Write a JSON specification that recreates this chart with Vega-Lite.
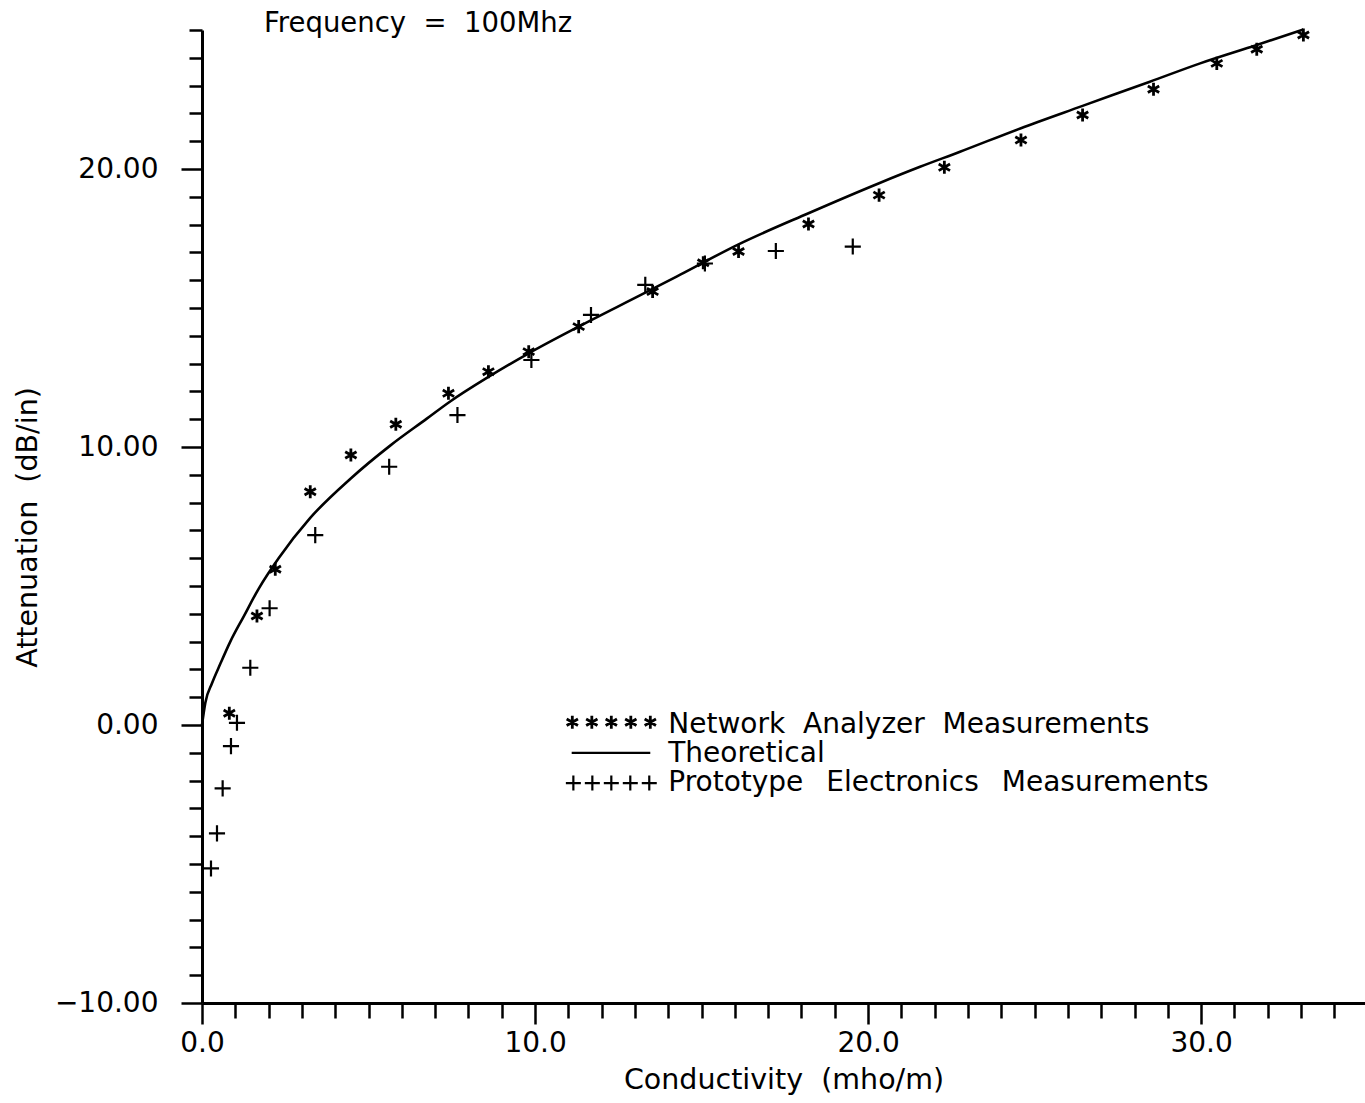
{
  "$schema": "https://vega.github.io/schema/vega-lite/v6.json",
  "width": 1163,
  "height": 973,
  "autosize": {"type": "none"},
  "padding": {"left": 202, "top": 30, "right": 0, "bottom": 100},
  "background": "white",
  "title": {
    "text": "Frequency\u00a0 =\u00a0 100Mhz",
    "anchor": "start",
    "frame": "group",
    "dx": 62,
    "dy": 43,
    "offset": 0,
    "baseline": "alphabetic",
    "font": "DejaVu Sans",
    "fontSize": 27.5,
    "fontWeight": "normal",
    "color": "black"
  },
  "config": {
    "view": {"stroke": null},
    "axis": {
      "grid": false,
      "domainColor": "black",
      "domainWidth": 3,
      "tickColor": "black",
      "tickWidth": 2.5,
      "labelFont": "DejaVu Sans",
      "labelFontSize": 28,
      "labelColor": "black",
      "titleFont": "DejaVu Sans",
      "titleFontSize": 28.5,
      "titleFontWeight": "normal",
      "titleColor": "black",
      "labelOverlap": false,
      "labelFlush": false
    }
  },
  "datasets": {
    "theory": [
      {"conductivity": 0, "attenuation": 0},
      {"conductivity": 0.1, "attenuation": 0.8},
      {"conductivity": 0.3, "attenuation": 1.5},
      {"conductivity": 0.55, "attenuation": 2.2},
      {"conductivity": 0.85, "attenuation": 3.0},
      {"conductivity": 1.25, "attenuation": 3.9},
      {"conductivity": 1.7, "attenuation": 4.9},
      {"conductivity": 2.3, "attenuation": 6.0},
      {"conductivity": 3.25, "attenuation": 7.45},
      {"conductivity": 4.45, "attenuation": 8.85},
      {"conductivity": 5.65, "attenuation": 10.05},
      {"conductivity": 6.75, "attenuation": 11.02},
      {"conductivity": 7.43, "attenuation": 11.62},
      {"conductivity": 8.6, "attenuation": 12.52},
      {"conductivity": 9.81, "attenuation": 13.37},
      {"conductivity": 11.31, "attenuation": 14.33},
      {"conductivity": 13.31, "attenuation": 15.55},
      {"conductivity": 14.36, "attenuation": 16.2},
      {"conductivity": 16.11, "attenuation": 17.29},
      {"conductivity": 18.21, "attenuation": 18.41},
      {"conductivity": 20.33, "attenuation": 19.49},
      {"conductivity": 21.56, "attenuation": 20.08},
      {"conductivity": 22.76, "attenuation": 20.62},
      {"conductivity": 24.57, "attenuation": 21.46},
      {"conductivity": 26.44, "attenuation": 22.27},
      {"conductivity": 28.46, "attenuation": 23.14},
      {"conductivity": 29.97, "attenuation": 23.8},
      {"conductivity": 31.67, "attenuation": 24.46},
      {"conductivity": 33.07, "attenuation": 25.02}
    ],
    "network": [
      {"conductivity": 0.82, "attenuation": 0.42},
      {"conductivity": 1.65, "attenuation": 3.92},
      {"conductivity": 2.2, "attenuation": 5.6},
      {"conductivity": 3.25, "attenuation": 8.39},
      {"conductivity": 4.47, "attenuation": 9.71},
      {"conductivity": 5.82, "attenuation": 10.82},
      {"conductivity": 7.4, "attenuation": 11.93},
      {"conductivity": 8.6, "attenuation": 12.71},
      {"conductivity": 9.81, "attenuation": 13.43},
      {"conductivity": 11.31, "attenuation": 14.33},
      {"conductivity": 13.53, "attenuation": 15.59},
      {"conductivity": 15.05, "attenuation": 16.63},
      {"conductivity": 16.11, "attenuation": 17.03},
      {"conductivity": 18.21, "attenuation": 18.02},
      {"conductivity": 20.33, "attenuation": 19.06},
      {"conductivity": 22.29, "attenuation": 20.06},
      {"conductivity": 24.59, "attenuation": 21.04},
      {"conductivity": 26.44, "attenuation": 21.94},
      {"conductivity": 28.57, "attenuation": 22.87},
      {"conductivity": 30.47, "attenuation": 23.8},
      {"conductivity": 31.67, "attenuation": 24.31},
      {"conductivity": 33.07, "attenuation": 24.82}
    ],
    "prototype": [
      {"conductivity": 0.27, "attenuation": -5.16},
      {"conductivity": 0.45, "attenuation": -3.9},
      {"conductivity": 0.62, "attenuation": -2.28},
      {"conductivity": 0.87, "attenuation": -0.76},
      {"conductivity": 1.05, "attenuation": 0.08},
      {"conductivity": 1.45, "attenuation": 2.06},
      {"conductivity": 2.03, "attenuation": 4.2},
      {"conductivity": 3.4, "attenuation": 6.83},
      {"conductivity": 5.62, "attenuation": 9.29},
      {"conductivity": 7.67, "attenuation": 11.15},
      {"conductivity": 9.89, "attenuation": 13.13},
      {"conductivity": 11.68, "attenuation": 14.75},
      {"conductivity": 13.31, "attenuation": 15.83},
      {"conductivity": 15.1, "attenuation": 16.6},
      {"conductivity": 17.23, "attenuation": 17.05},
      {"conductivity": 19.54, "attenuation": 17.21}
    ]
  },
  "layer": [
    {
      "data": {"name": "theory"},
      "mark": {"type": "line", "color": "black", "strokeWidth": 2.6, "interpolate": "monotone"},
      "encoding": {
        "x": {
          "field": "conductivity",
          "type": "quantitative",
          "scale": {"domain": [0, 34.92], "nice": false, "zero": false},
          "axis": {
            "title": "Conductivity\u00a0 (mho/m)",
            "values": [0, 1, 2, 3, 4, 5, 6, 7, 8, 9, 10, 11, 12, 13, 14, 15, 16, 17, 18, 19, 20, 21, 22, 23, 24, 25, 26, 27, 28, 29, 30, 31, 32, 33, 34],
            "tickCount": 100,
            "labelExpr": "datum.value % 10 === 0 ? format(datum.value, '.1f') : ''",
            "tickSize": {"condition": {"test": "datum.value % 10 === 0", "value": 21}, "value": 15},
            "labelPadding": 5,
            "titlePadding": 8
          }
        },
        "y": {
          "field": "attenuation",
          "type": "quantitative",
          "scale": {"domain": [-10, 25], "nice": false, "zero": false},
          "axis": {
            "title": "Attenuation\u00a0 (dB/in)",
            "values": [-10, -9, -8, -7, -6, -5, -4, -3, -2, -1, 0, 1, 2, 3, 4, 5, 6, 7, 8, 9, 10, 11, 12, 13, 14, 15, 16, 17, 18, 19, 20, 21, 22, 23, 24, 25],
            "tickCount": 100,
            "labelExpr": "datum.value % 10 === 0 ? format(datum.value, '.2f') : ''",
            "tickSize": {"condition": {"test": "datum.value % 10 === 0", "value": 21}, "value": 13},
            "labelPadding": 23,
            "titlePadding": 12,
            "titleY": 497
          }
        }
      }
    },
    {
      "data": {"name": "network"},
      "mark": {
        "type": "point",
        "shape": "M0,-1L0,1M-0.87,-0.5L0.87,0.5M-0.87,0.5L0.87,-0.5",
        "filled": false,
        "stroke": "black",
        "strokeWidth": 2.8,
        "size": 170,
        "opacity": 1
      },
      "encoding": {
        "x": {"field": "conductivity", "type": "quantitative", "scale": {"domain": [0, 34.92], "nice": false, "zero": false}},
        "y": {"field": "attenuation", "type": "quantitative", "scale": {"domain": [-10, 25], "nice": false, "zero": false}}
      }
    },
    {
      "data": {"name": "prototype"},
      "mark": {
        "type": "point",
        "shape": "M-1,0L1,0M0,-1L0,1",
        "filled": false,
        "stroke": "black",
        "strokeWidth": 2.2,
        "size": 260,
        "opacity": 1
      },
      "encoding": {
        "x": {"field": "conductivity", "type": "quantitative", "scale": {"domain": [0, 34.92], "nice": false, "zero": false}},
        "y": {"field": "attenuation", "type": "quantitative", "scale": {"domain": [-10, 25], "nice": false, "zero": false}}
      }
    },
    {
      "data": {"values": [{}]},
      "mark": {
        "type": "point",
        "shape": "M-6,-1L-6,1M-6.87,-0.5L-5.13,0.5M-6.87,0.5L-5.13,-0.5M-3,-1L-3,1M-3.87,-0.5L-2.13,0.5M-3.87,0.5L-2.13,-0.5M0,-1L0,1M-0.87,-0.5L0.87,0.5M-0.87,0.5L0.87,-0.5M3,-1L3,1M2.13,-0.5L3.87,0.5M2.13,0.5L3.87,-0.5M6,-1L6,1M5.13,-0.5L6.87,0.5M5.13,0.5L6.87,-0.5",
        "filled": false,
        "stroke": "black",
        "strokeWidth": 2.8,
        "size": 169,
        "opacity": 1
      },
      "encoding": {
        "x": {"datum": 12.29, "type": "quantitative"},
        "y": {"datum": 0.1, "type": "quantitative"}
      }
    },
    {
      "data": {"values": [{}]},
      "mark": {"type": "rule", "color": "black", "strokeWidth": 2.2},
      "encoding": {
        "x": {"datum": 11.1, "type": "quantitative"},
        "x2": {"datum": 13.46},
        "y": {"datum": -1.0, "type": "quantitative"}
      }
    },
    {
      "data": {"values": [{}]},
      "mark": {
        "type": "point",
        "shape": "M-6.06,0L-4.06,0M-5.06,-1L-5.06,1M-3.53,0L-1.53,0M-2.53,-1L-2.53,1M-1,0L1,0M0,-1L0,1M1.53,0L3.53,0M2.53,-1L2.53,1M4.06,0L6.06,0M5.06,-1L5.06,1",
        "filled": false,
        "stroke": "black",
        "strokeWidth": 2.2,
        "size": 225,
        "opacity": 1
      },
      "encoding": {
        "x": {"datum": 12.29, "type": "quantitative"},
        "y": {"datum": -2.09, "type": "quantitative"}
      }
    },
    {
      "data": {"values": [{}]},
      "mark": {"type": "text", "align": "left", "baseline": "middle", "font": "DejaVu Sans", "fontSize": 28, "color": "black"},
      "encoding": {
        "x": {"datum": 14.0, "type": "quantitative"},
        "y": {"datum": 0.0, "type": "quantitative"},
        "text": {"value": "Network\u00a0 Analyzer\u00a0 Measurements"}
      }
    },
    {
      "data": {"values": [{}]},
      "mark": {"type": "text", "align": "left", "baseline": "middle", "font": "DejaVu Sans", "fontSize": 28, "color": "black"},
      "encoding": {
        "x": {"datum": 14.0, "type": "quantitative"},
        "y": {"datum": -1.05, "type": "quantitative"},
        "text": {"value": "Theoretical"}
      }
    },
    {
      "data": {"values": [{}]},
      "mark": {"type": "text", "align": "left", "baseline": "middle", "font": "DejaVu Sans", "fontSize": 28, "color": "black"},
      "encoding": {
        "x": {"datum": 14.0, "type": "quantitative"},
        "y": {"datum": -2.09, "type": "quantitative"},
        "text": {"value": "Prototype\u00a0\u2002Electronics\u00a0\u2002Measurements"}
      }
    }
  ]
}
